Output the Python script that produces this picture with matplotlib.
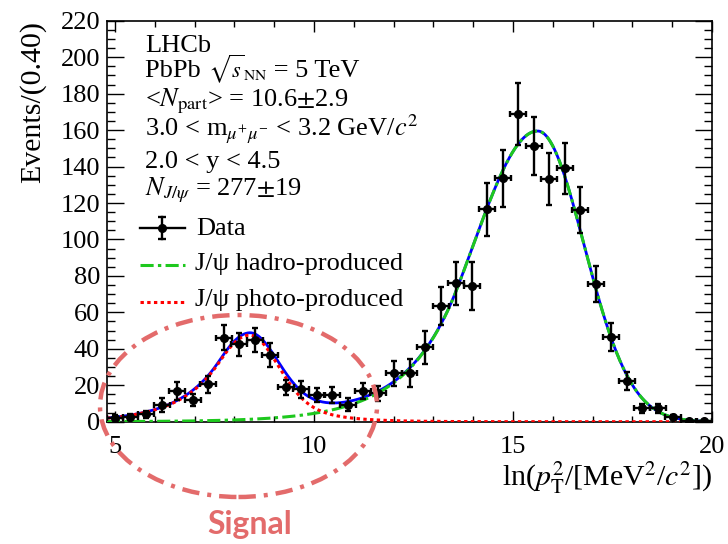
import numpy as np
import matplotlib
matplotlib.use('Agg')
import matplotlib.pyplot as plt
from matplotlib.patches import Ellipse
from matplotlib.ticker import MultipleLocator

plt.rcParams['font.family'] = ['Liberation Serif', 'DejaVu Serif']
plt.rcParams['mathtext.fontset'] = 'stix'

# binned data (centres in ln(pT^2), events per bin, stat. error)
x_centres = [5.00, 5.39, 5.78, 6.17, 6.56, 6.95, 7.34, 7.73, 8.12, 8.51,
             8.90, 9.29, 9.68, 10.07, 10.46, 10.85, 11.24, 11.62, 12.01, 12.40,
             12.79, 13.18, 13.57, 13.96, 14.35, 14.74, 15.13, 15.52, 15.91, 16.30,
             16.69, 17.08, 17.47, 17.86, 18.25, 18.64, 19.03, 19.42, 19.81]
events = [2.3, 2.7, 4.1, 9.2, 17.0, 11.9, 20.5, 46.0, 42.5, 44.8,
          36.6, 18.9, 17.8, 14.6, 14.6, 9.4, 16.8, 15.6, 26.5, 26.7,
          40.8, 63.6, 75.9, 74.4, 116.5, 133.5, 168.8, 151.3, 133.2, 139.0,
          116.0, 75.5, 46.6, 22.3, 7.3, 7.3, 2.5, 0.3, 0.3]
errors = [1.4, 1.5, 2.0, 3.7, 5.0, 3.3, 4.6, 6.9, 6.2, 6.7,
          6.4, 4.2, 4.8, 3.9, 4.2, 3.4, 4.6, 4.1, 7.0, 7.5,
          9.0, 10.5, 11.9, 13.0, 14.6, 15.5, 17.0, 16.0, 14.5, 14.0,
          12.6, 10.0, 7.7, 5.0, 2.6, 2.6, 1.2, 0.5, 0.5]
half_bin = 0.2

# fit components, parameters
photo_peak, photo_height = 8.38, 47.5
photo_sig_lo, photo_k_lo = 0.88, 0.88
photo_sig_hi, photo_tail_frac, photo_tail_slope = 0.70, 0.4, 1.15
hadro_peak, hadro_height = 15.62, 159.5
hadro_sig_lo, hadro_k_lo, hadro_sig_hi = 1.62, 1.25, 1.17

text_lines = [r'<$N_{\rm part}$> = 10.6$\pm$2.9',
              r'3.0 < m$_{\mu^{+}\mu^{-}}$ < 3.2 GeV/$c^{2}$',
              '2.0 < y < 4.5',
              r'$N_{J/\psi}$ = 277$\pm$19']


def gauss_exp_lo(u, sig, k):
    # gaussian core with exponential tail on the low side
    z = u / sig
    return np.where(z > -k, np.exp(-0.5 * z**2), np.exp(0.5 * k**2 + k * z))


xx = np.linspace(4.8, 20.0, 900)
u = xx - photo_peak
photo = photo_height * np.where(
    u < 0, gauss_exp_lo(u, photo_sig_lo, photo_k_lo),
    (1 - photo_tail_frac) * np.exp(-0.5 * (u / photo_sig_hi)**2)
    + photo_tail_frac / np.cosh(photo_tail_slope * u))
u = xx - hadro_peak
hadro = hadro_height * np.where(u < 0, gauss_exp_lo(u, hadro_sig_lo, hadro_k_lo),
                                np.exp(-0.5 * (u / hadro_sig_hi)**2))
total = photo + hadro

fs = 19
fs_title = 21.5
fig = plt.figure(figsize=(7.28, 5.44), dpi=100)
ax = fig.add_axes([0.147, 0.2248, 0.831, 0.737])

ax.plot(xx, total, color='#0000ff', lw=2.0, zorder=2)
ax.plot(xx, hadro, color='#1ec81e', lw=2.2, ls=(0, (4.3, 1.4, 1.1, 1.4)), zorder=3)
ax.plot(xx, photo, color='#ff0000', lw=2.2, ls=(0, (1.1, 1.1)), zorder=3)
ax.errorbar(x_centres, events, yerr=errors, xerr=half_bin, fmt='o', color='black',
            ms=5.5, elinewidth=1.7, capsize=2, capthick=1.7, zorder=5)

ax.set_xlim(4.8, 20.0)
ax.set_ylim(0, 220)
ax.xaxis.set_major_locator(MultipleLocator(5))
ax.xaxis.set_minor_locator(MultipleLocator(1))
ax.yaxis.set_major_locator(MultipleLocator(20))
ax.yaxis.set_minor_locator(MultipleLocator(5))
ax.tick_params(which='both', direction='in', top=True, right=True, width=1.0,
               labelsize=fs)
ax.tick_params(axis='x', which='major', length=8, pad=10)
ax.tick_params(axis='x', which='minor', length=4.3)
ax.tick_params(axis='y', which='major', length=12, pad=5)
ax.tick_params(axis='y', which='minor', length=6)
for s in ax.spines.values():
    s.set_linewidth(1.2)

ax.set_ylabel('Events/(0.40)', fontsize=fs_title, loc='top')
ax.yaxis.set_label_coords(-0.10, 1.0)
ax.set_xlabel(r'ln($p_{\rm T}^{2}$/[MeV$^{2}$/$c^{2}$])', fontsize=fs_title, loc='right')
ax.xaxis.set_label_coords(1.0, -0.095)

# info text
tr = ax.transAxes
renderer = fig.canvas.get_renderer()
ax.text(0.063, 0.9227, 'LHCb', transform=tr, fontsize=fs, va='baseline')
# PbPb line pieced together so the radical stays small, as in ROOT
x0 = 0.063
for piece, size in [('PbPb ', fs), (r'$\sqrt{s}_{\rm NN}$', 16), (' = 5 TeV', fs)]:
    t = ax.text(x0, 0.8596, piece, transform=tr, fontsize=size, va='baseline')
    x1 = t.get_window_extent(renderer).x1
    x0 = tr.inverted().transform((x1, 0))[0]
text_y = [0.786, 0.7107, 0.6327, 0.5653]
for t, y in zip(text_lines, text_y):
    ax.text(0.063, y, t, transform=tr, fontsize=fs, va='baseline')

# legend drawn by hand, ROOT style
hx = [0.0545, 0.129]
xc = 0.0917
ax.plot(hx, [0.4823, 0.4823], color='k', lw=1.7, transform=tr)
ax.plot([xc, xc], [0.4549, 0.5097], color='k', lw=1.7, transform=tr)
ax.plot([xc, xc], [0.4549, 0.5097], color='k', ls='none', marker='_', ms=6,
        mew=1.7, transform=tr)
ax.plot([xc], [0.4823], 'o', color='k', ms=5.5, transform=tr)
ax.plot(hx, [0.3908, 0.3908], color='#1ec81e', lw=2.2,
        ls=(0, (4.3, 1.4, 1.1, 1.4)), transform=tr)
ax.plot(hx, [0.2993, 0.2993], color='#ff0000', lw=2.2, ls=(0, (1.1, 1.1)),
        transform=tr)
ax.text(0.147, 0.4656, 'Data', transform=tr, fontsize=fs, va='baseline')
ax.text(0.1455, 0.3783, 'J/ψ hadro-produced', transform=tr, fontsize=fs, va='baseline')
ax.text(0.1455, 0.2885, 'J/ψ photo-produced', transform=tr, fontsize=fs, va='baseline')

# "Signal" annotation on top of the figure
sig_col = '#e36b6b'
fig.add_artist(Ellipse((238.5 / 728, 1 - 406 / 544), 277 / 728, 182 / 544,
                       transform=fig.transFigure, fill=False, edgecolor=sig_col,
                       lw=3.2, ls=(0, (3.9, 1.8, 0.9, 1.8)), zorder=10))
fig.text(0.343, 0.035, 'Signal', color=sig_col, fontsize=23, fontweight='bold',
         family='Lato', ha='center', va='center')

fig.savefig('out.png', dpi=100)
